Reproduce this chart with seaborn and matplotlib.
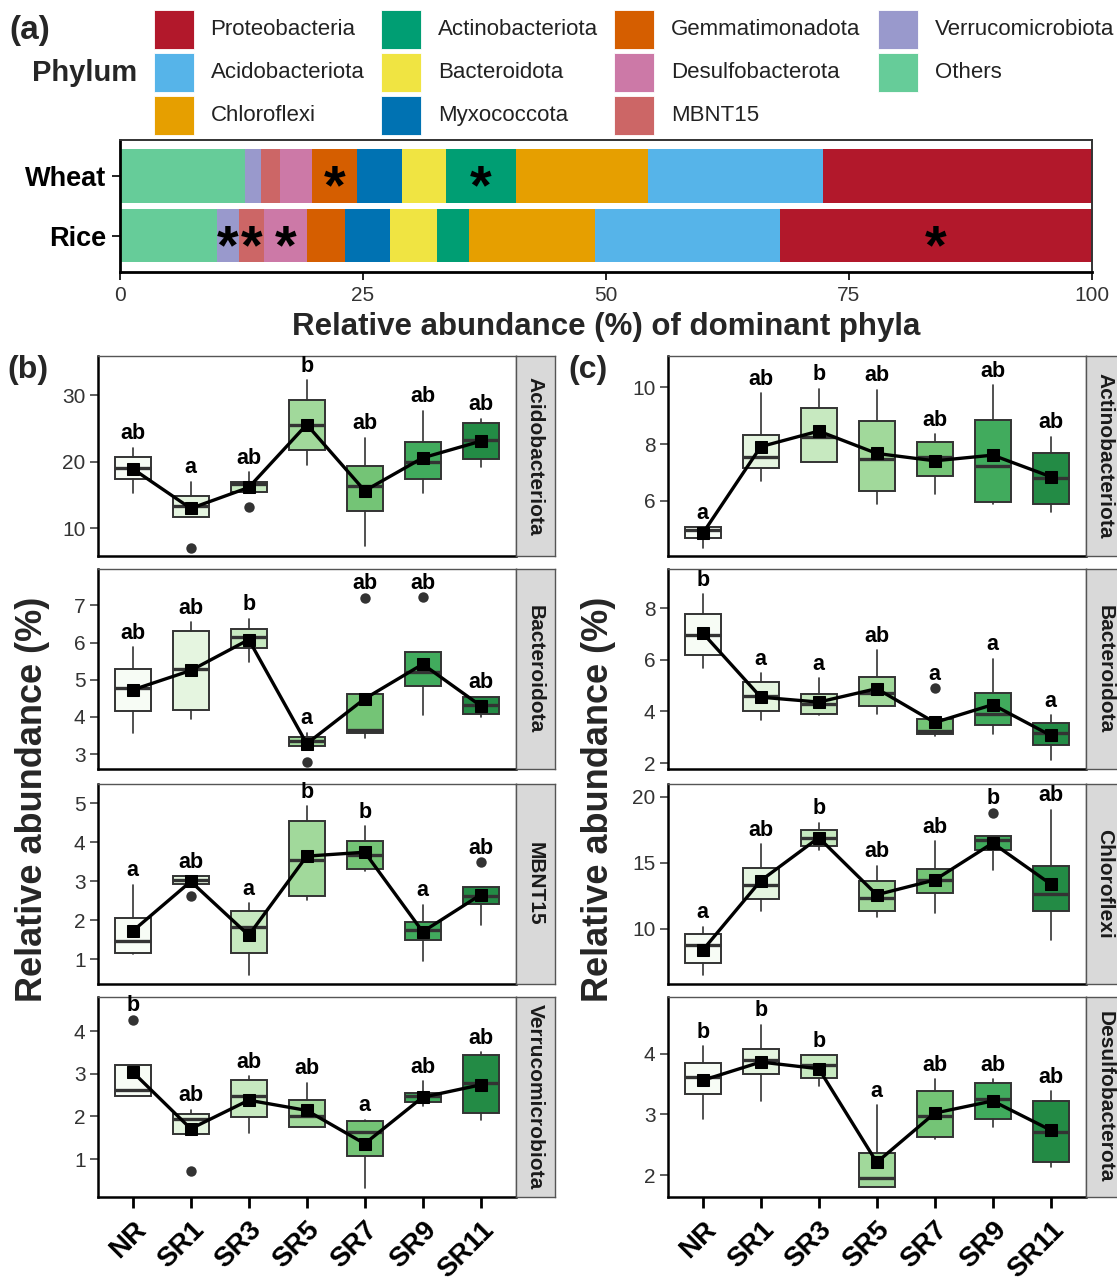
import numpy as np
import matplotlib
matplotlib.use("Agg")
import matplotlib.pyplot as plt
from matplotlib.patches import Rectangle
import seaborn as sns

# ---------------- panel (a): relative abundance (%) of dominant phyla
crops = ["Wheat", "Rice"]
stack_order = ["Others", "Verrucomicrobiota", "MBNT15", "Desulfobacterota",
               "Gemmatimonadota", "Myxococcota", "Bacteroidota", "Actinobacteriota",
               "Chloroflexi", "Acidobacteriota", "Proteobacteria"]
wheat_pct = [12.9, 1.6, 2.0, 3.3, 4.6, 4.6, 4.5, 7.2, 13.6, 18.0, 27.7]
rice_pct = [10.0, 2.2, 2.6, 4.4, 3.9, 4.7, 4.8, 3.3, 13.0, 19.0, 32.1]
wheat_star = ["Gemmatimonadota", "Actinobacteriota"]
rice_star = ["Verrucomicrobiota", "MBNT15", "Desulfobacterota", "Proteobacteria"]
legend_order = ["Proteobacteria", "Acidobacteriota", "Chloroflexi",
                "Actinobacteriota", "Bacteroidota", "Myxococcota",
                "Gemmatimonadota", "Desulfobacterota", "MBNT15",
                "Verrucomicrobiota", "Others"]
phylum_colors = {
    "Proteobacteria": "#B2182B", "Acidobacteriota": "#56B4E9", "Chloroflexi": "#E69F00",
    "Actinobacteriota": "#009E73", "Bacteroidota": "#F0E442", "Myxococcota": "#0072B2",
    "Gemmatimonadota": "#D55E00", "Desulfobacterota": "#CC79A7", "MBNT15": "#CC6666",
    "Verrucomicrobiota": "#9999CC", "Others": "#66CC99",
}

# ---------------- panels (b) and (c): boxes per treatment
groups = ["NR", "SR1", "SR3", "SR5", "SR7", "SR9", "SR11"]
box_colors = ["#F7FCF5", "#E5F5E0", "#C7E9C0", "#A1D99B", "#74C476", "#41AB5D", "#238B45"]

# each row: whisker low, Q1, median, Q3, whisker high
b_acido_box = [[15.35, 17.35, 19.1, 20.65, 22.15], [11.75, 11.75, 13.4, 14.9, 17.0],
               [15.4, 15.5, 16.65, 17.0, 18.4], [19.5, 21.85, 25.6, 29.25, 32.25],
               [7.35, 12.55, 16.4, 19.3, 23.65], [15.25, 17.35, 20.0, 23.0, 27.65],
               [19.25, 20.4, 23.25, 25.85, 26.5]]
b_acido_mean = [18.95, 13.0, 16.15, 25.6, 15.65, 20.6, 23.1]
b_acido_out = [[], [7.1], [13.25], [], [], [], []]
b_acido_sig = ["ab", "a", "ab", "b", "ab", "ab", "ab"]

b_bact_box = [[3.57, 4.17, 4.79, 5.3, 5.88], [3.94, 4.2, 5.28, 6.3, 6.55],
              [5.47, 5.85, 6.15, 6.36, 6.64], [3.16, 3.21, 3.36, 3.45, 3.58],
              [3.43, 3.58, 3.64, 4.62, 4.62], [4.06, 4.82, 5.2, 5.74, 5.74],
              [4.01, 4.08, 4.31, 4.55, 4.55]]
b_bact_mean = [4.73, 5.25, 6.08, 3.28, 4.49, 5.42, 4.3]
b_bact_out = [[], [], [], [2.8], [7.2], [7.22], []]
b_bact_sig = ["ab", "ab", "b", "a", "ab", "ab", "ab"]

b_mbnt_box = [[1.15, 1.17, 1.47, 2.06, 2.92], [2.94, 2.94, 3.04, 3.13, 3.13],
              [0.6, 1.17, 1.82, 2.23, 2.44], [2.53, 2.63, 3.56, 4.55, 4.93],
              [3.28, 3.32, 3.67, 4.05, 4.42], [0.96, 1.49, 1.75, 1.97, 2.4],
              [1.89, 2.42, 2.63, 2.87, 2.87]]
b_mbnt_mean = [1.73, 3.0, 1.62, 3.65, 3.75, 1.71, 2.66]
b_mbnt_out = [[], [2.62], [], [], [], [], [3.49]]
b_mbnt_sig = ["a", "ab", "a", "b", "b", "a", "ab"]

b_verr_box = [[2.49, 2.49, 2.63, 3.2, 3.2], [1.58, 1.58, 1.95, 2.05, 2.16],
              [1.61, 1.98, 2.49, 2.86, 2.94], [1.75, 1.75, 2.0, 2.39, 2.79],
              [0.33, 1.06, 1.63, 1.9, 1.92], [2.24, 2.34, 2.49, 2.55, 2.83],
              [1.92, 2.08, 2.78, 3.43, 3.51]]
b_verr_mean = [3.04, 1.71, 2.38, 2.14, 1.36, 2.45, 2.74]
b_verr_out = [[4.27], [0.72], [], [], [], [], []]
b_verr_sig = ["b", "ab", "ab", "ab", "a", "ab", "ab"]

c_actino_box = [[4.35, 4.67, 4.98, 5.06, 5.06], [6.69, 7.14, 7.53, 8.32, 9.79],
                [7.38, 7.38, 8.26, 9.26, 9.96], [5.87, 6.34, 7.49, 8.82, 9.91],
                [6.24, 6.87, 7.55, 8.08, 8.34], [5.88, 5.96, 7.22, 8.85, 10.08],
                [5.61, 5.88, 6.79, 7.67, 8.26]]
c_actino_mean = [4.85, 7.91, 8.46, 7.67, 7.41, 7.61, 6.85]
c_actino_out = [[], [], [], [], [], [], []]
c_actino_sig = ["a", "ab", "b", "ab", "ab", "ab", "ab"]

c_bact_box = [[5.68, 6.19, 6.97, 7.78, 8.54], [3.68, 4.0, 4.58, 5.12, 5.48],
              [3.87, 3.91, 4.28, 4.68, 5.29], [3.9, 4.22, 4.71, 5.33, 6.36],
              [3.06, 3.14, 3.23, 3.7, 3.7], [3.14, 3.46, 3.91, 4.71, 6.03],
              [2.13, 2.68, 3.16, 3.55, 3.85]]
c_bact_mean = [7.03, 4.55, 4.36, 4.88, 3.57, 4.26, 3.07]
c_bact_out = [[], [], [], [], [4.9], [], []]
c_bact_sig = ["b", "a", "a", "ab", "a", "a", "a"]

c_chloro_box = [[6.46, 7.4, 8.73, 9.57, 10.13], [11.35, 12.24, 13.31, 14.6, 16.39],
                [16.0, 16.23, 16.9, 17.46, 18.02], [10.89, 11.35, 12.32, 13.64, 14.78],
                [11.15, 12.67, 13.69, 14.53, 16.62], [14.45, 15.93, 16.69, 17.0, 17.0],
                [9.11, 11.3, 12.62, 14.73, 19.03]]
c_chloro_mean = [8.37, 13.64, 16.9, 12.57, 13.69, 16.49, 13.38]
c_chloro_out = [[], [], [], [], [], [18.78], []]
c_chloro_sig = ["a", "ab", "b", "ab", "ab", "b", "ab"]

c_desulfo_box = [[2.92, 3.33, 3.61, 3.84, 4.12], [3.22, 3.66, 3.9, 4.07, 4.47],
                 [3.47, 3.59, 3.81, 3.97, 3.97], [1.81, 1.81, 1.96, 2.37, 3.15],
                 [2.59, 2.63, 2.97, 3.38, 3.58], [2.79, 2.93, 3.25, 3.52, 3.58],
                 [2.13, 2.21, 2.71, 3.22, 3.38]]
c_desulfo_mean = [3.56, 3.86, 3.75, 2.21, 3.02, 3.22, 2.74]
c_desulfo_out = [[], [], [], [], [], [], []]
c_desulfo_sig = ["b", "b", "b", "a", "ab", "ab", "ab"]

# ---------------- figure
sns.set_theme(style="white")
plt.rcParams["font.family"] = ["Liberation Sans", "DejaVu Sans"]

W, H = 1117, 1282
fig = plt.figure(figsize=(W / 100, H / 100), dpi=100)


def px_axes(x0, y0, w, h):
    return fig.add_axes([x0 / W, 1 - (y0 + h) / H, w / W, h / H])


lay = px_axes(0, 0, W, H)
lay.set_xlim(0, W)
lay.set_ylim(H, 0)
lay.axis("off")

# legend of panel (a)
leg_x = [153.5, 381, 614, 878]
leg_y = [9.5, 52.7, 95.8]
for i, ph in enumerate(legend_order):
    col, row = divmod(i, 3)
    lay.add_patch(Rectangle((leg_x[col], leg_y[row]), 40, 39.5,
                            facecolor=phylum_colors[ph], edgecolor="white", lw=0.6))
    lay.text(leg_x[col] + 57, leg_y[row] + 20, ph, fontsize=16,
             va="center", ha="left", color="#222222")

lay.text(9, 31, "(a)", fontsize=24, fontweight="bold", va="center", ha="left")
lay.text(137, 73, "Phylum", fontsize=21, fontweight="bold", va="center", ha="right")
lay.text(7, 370, "(b)", fontsize=23, fontweight="bold", va="center", ha="left")
lay.text(568, 370, "(c)", fontsize=23, fontweight="bold", va="center", ha="left")
for xc in (33, 598):
    lay.text(xc, 799, "Relative abundance (%)", fontsize=26, fontweight="bold",
             rotation=90, va="center", ha="center")

# panel (a) stacked bars
ax_a = px_axes(120, 140, 972, 131.7)
ypos = [1, 0]
star_fs = 40
for crop, yy, vals, stars in zip(crops, ypos, [wheat_pct, rice_pct], [wheat_star, rice_star]):
    left = np.concatenate([[0], np.cumsum(vals)[:-1]])
    ax_a.barh([yy] * len(vals), vals, left=left, height=0.89,
              color=[phylum_colors[p] for p in stack_order], linewidth=0)
    for p in stars:
        k = stack_order.index(p)
        ax_a.annotate("*", (left[k] + vals[k] / 2, yy), xytext=(0, -0.49 * star_fs),
                      textcoords="offset points", ha="center", va="baseline",
                      fontsize=star_fs, fontweight="bold", color="black")
ax_a.set_xlim(0, 100)
ax_a.set_ylim(-0.6, 1.6)
ax_a.set_yticks(ypos, crops, fontsize=19.5, fontweight="bold", color="black")
ax_a.set_xticks([0, 25, 50, 75, 100], ["0", "25", "50", "75", "100"], fontsize=15, color="#333333")
ax_a.tick_params(axis="both", direction="out", length=6, width=1.4, color="#222222",
                 bottom=True, left=True, pad=4)
ax_a.set_xlabel("Relative abundance (%) of dominant phyla", fontsize=22.5,
                fontweight="bold", labelpad=5)
for s in ("left", "bottom"):
    ax_a.spines[s].set_color("black")
    ax_a.spines[s].set_linewidth(2.0)
for s in ("top", "right"):
    ax_a.spines[s].set_color("#333333")
    ax_a.spines[s].set_linewidth(1.4)

# panels (b) and (c)
panels_b = [
    ("Acidobacteriota", b_acido_box, b_acido_mean, b_acido_out, b_acido_sig, (5.85, 35.9), [10, 20, 30]),
    ("Bacteroidota", b_bact_box, b_bact_mean, b_bact_out, b_bact_sig, (2.6, 7.98), [3, 4, 5, 6, 7]),
    ("MBNT15", b_mbnt_box, b_mbnt_mean, b_mbnt_out, b_mbnt_sig, (0.37, 5.5), [1, 2, 3, 4, 5]),
    ("Verrucomicrobiota", b_verr_box, b_verr_mean, b_verr_out, b_verr_sig, (0.11, 4.8), [1, 2, 3, 4]),
]
panels_c = [
    ("Actinobacteriota", c_actino_box, c_actino_mean, c_actino_out, c_actino_sig, (4.05, 11.11), [6, 8, 10]),
    ("Bacteroidota", c_bact_box, c_bact_mean, c_bact_out, c_bact_sig, (1.77, 9.51), [2, 4, 6, 8]),
    ("Chloroflexi", c_chloro_box, c_chloro_mean, c_chloro_out, c_chloro_sig, (5.8, 20.97), [10, 15, 20]),
    ("Desulfobacterota", c_desulfo_box, c_desulfo_mean, c_desulfo_out, c_desulfo_sig, (1.64, 4.93), [2, 3, 4]),
]

row_top = [356, 569, 784, 997]
panel_h = 200
xpos = np.arange(len(groups))


def draw_panel(x0, y0, w, name, box, mean, out, sig, ylim, ticks, bottom_row):
    ax = px_axes(x0, y0, w, panel_h)
    stats = [dict(whislo=b[0], q1=b[1], med=b[2], q3=b[3], whishi=b[4], fliers=o)
             for b, o in zip(box, out)]
    bp = ax.bxp(stats, positions=xpos, widths=0.62, patch_artist=True, showcaps=False,
                boxprops=dict(edgecolor="#333333", linewidth=1.4),
                medianprops=dict(color="#333333", linewidth=2.4),
                whiskerprops=dict(color="#333333", linewidth=1.2),
                flierprops=dict(marker="o", markerfacecolor="#333333",
                                markeredgecolor="none", markersize=7.5))
    for patch, c in zip(bp["boxes"], box_colors):
        patch.set_facecolor(c)
    sns.lineplot(x=xpos, y=mean, ax=ax, color="black", linewidth=2.4, marker="s",
                 markersize=9, markerfacecolor="black", markeredgecolor="black", zorder=5)
    span = ylim[1] - ylim[0]
    for i, letter in enumerate(sig):
        top = max([box[i][4]] + out[i])
        ax.text(xpos[i], top + 0.07 * span, letter, ha="center", va="center",
                fontsize=15.5, fontweight="bold", color="black")
    ax.set_xlim(-0.6, len(groups) - 0.4)
    ax.set_ylim(*ylim)
    ax.set_yticks(ticks, [str(t) for t in ticks], fontsize=15, color="#333333")
    ax.tick_params(axis="y", direction="out", length=6, width=1.1, color="#333333",
                   left=True, pad=3)
    if bottom_row:
        ax.set_xticks(xpos, groups, fontsize=20, fontweight="bold", rotation=45,
                      ha="right", va="top", rotation_mode="anchor", color="black")
        ax.tick_params(axis="x", direction="out", length=8, width=2, color="black",
                       labelcolor="black", bottom=True, pad=6)
    else:
        ax.set_xticks([])
    for s in ("left", "bottom"):
        ax.spines[s].set_color("black")
        ax.spines[s].set_linewidth(1.8)
    for s in ("top", "right"):
        ax.spines[s].set_color("#555555")
        ax.spines[s].set_linewidth(1.0)
    # facet strip
    st = px_axes(x0 + w, y0, 39, panel_h)
    st.set_facecolor("#D9D9D9")
    st.set_xticks([])
    st.set_yticks([])
    for s in st.spines.values():
        s.set_color("#555555")
        s.set_linewidth(1.0)
    st.text(0.5, 0.5, name, rotation=-90, ha="center", va="center", fontsize=15,
            fontweight="bold", color="#1A1A1A", transform=st.transAxes)
    return ax


for col_x, panels in ((98, panels_b), (668, panels_c)):
    for r, (name, box, mean, out, sig, ylim, ticks) in enumerate(panels):
        draw_panel(col_x, row_top[r], 417.5, name, box, mean, out, sig, ylim, ticks,
                   r == len(panels) - 1)

fig.savefig("out.png", dpi=100)
